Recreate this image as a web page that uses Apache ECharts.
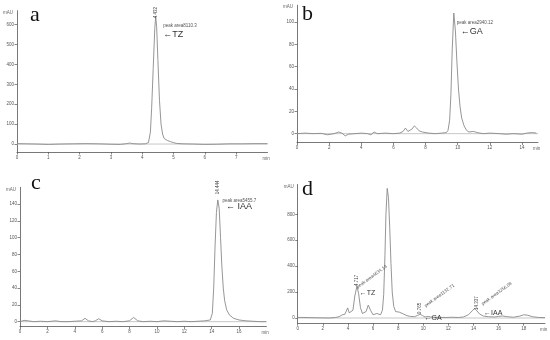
<!DOCTYPE html>
<html><head><meta charset="utf-8">
<script src="https://cdn.jsdelivr.net/npm/echarts@6/dist/echarts.min.js"></script>
<style>html,body{margin:0;padding:0;background:#fff}#c{width:550px;height:340px}</style>
</head><body><div id="c"></div>
<script>
// ---- Panel a (TZ standard) ----
const timeA = [0,0.3,0.6,1.0,1.4,1.8,2.2,2.6,3.0,3.3,3.5,3.6,3.7,3.9,4.1,4.2,4.26,4.3,4.35,4.4,4.43,4.46,4.5,4.55,4.6,4.65,4.7,4.8,4.9,5.0,5.1,5.3,5.6,6.0,6.4,6.8,7.2,7.6,8.0];
const mauA  = [2,1,0,-2,0,1,2,1,-1,-2,2,5,2,0,1,8,60,180,380,580,640,590,420,220,100,50,28,18,12,7,3,1,0,-2,-1,1,1,2,2];
// ---- Panel b (GA standard) ----
const timeB = [0,0.5,1,1.5,1.9,2.3,2.6,2.8,3.0,3.2,3.6,4.0,4.4,4.6,4.8,5.0,5.5,6.0,6.4,6.6,6.75,6.9,7.0,7.15,7.3,7.45,7.6,7.8,8.2,8.6,9.0,9.3,9.4,9.5,9.58,9.66,9.76,9.86,9.95,10.05,10.15,10.25,10.4,10.55,10.7,11.0,11.2,11.6,12.0,12.6,13.0,13.5,14.0,14.3,14.6,14.9];
const mauB  = [0,0.5,0,0.3,-1,0,1.5,0.5,-2,-0.5,0,0.5,0,-1,1.5,0,0.5,0,0.5,2,5,2,1,4,7,5,2.5,1.5,0.5,0,0.5,1,3,12,35,75,108,92,65,40,24,14,7,3,1.5,2,1,0,0.5,0,-0.5,0,-0.5,0.5,1,0.5];
// ---- Panel c (IAA standard) ----
const timeC = [0,0.3,0.6,1,1.5,2,2.6,3,3.5,4,4.5,4.75,5.0,5.3,5.5,5.75,6.0,6.5,7,7.5,8.0,8.3,8.6,9,9.5,10,10.5,11,11.5,12,12.5,13,13.5,13.9,14.05,14.15,14.25,14.35,14.45,14.55,14.65,14.75,14.85,14.95,15.1,15.3,15.6,16,16.5,17,17.5,18];
const mauC  = [0,1.5,1,0,0.5,0,1,0,0,0.5,1,4,1,0,1,3.5,1,0,0.5,0,1,5,1,0,0.5,0,1,0.5,0,0.5,0,0.5,1,2,10,40,90,130,145,135,100,65,40,25,14,8,4,2,1,0.5,0,0];
// ---- Panel d (sample) ----
const timeD = [0,0.5,1,1.5,2,2.5,3,3.3,3.55,3.65,3.75,3.85,3.98,4.1,4.25,4.4,4.55,4.72,4.85,5.0,5.15,5.3,5.45,5.62,5.8,6.0,6.15,6.3,6.45,6.6,6.75,6.85,6.95,7.03,7.13,7.23,7.33,7.43,7.53,7.65,7.8,7.95,8.1,8.25,8.45,8.7,9.0,9.3,9.55,9.75,9.95,10.15,10.4,10.6,10.9,11.3,11.8,12.3,12.8,13.2,13.6,13.9,14.1,14.25,14.5,14.8,15.2,15.7,16.0,16.3,16.7,17.2,17.7,18.0,18.3,18.7,19.2,19.7];
const mauD  = [5,4,3,2,1,0,4,10,25,40,28,40,78,40,25,60,170,245,190,80,35,25,50,100,60,25,30,35,20,25,60,180,480,800,1000,930,700,420,200,90,50,40,45,50,30,18,12,10,20,30,18,8,12,8,6,5,4,6,4,8,25,55,75,80,30,15,10,8,12,16,10,6,15,25,22,10,4,3];

// axis ranges and tick values
const xMax = [8, 15, 18, 19.7];
const yMin = [-40, -8, -6, -40];
const yMax = [670, 115, 160, 1030];
const xTicks = [[0,1,2,3,4,5,6,7],[0,2,4,6,8,10,12,14],[0,2,4,6,8,10,12,14,16],[0,2,4,6,8,10,12,14,16,18]];
const yTicks = [[0,100,200,300,400,500,600],[0,20,40,60,80,100],[0,20,40,60,80,100,120,140],[0,200,400,600,800]];
const panelLetters = ['a','b','c','d'];

// annotations: [x, y, text]
const rtLabels = [
  [[4.43, 660, '4.432']],
  [[9.76, 118, '9.764']],
  [[14.45, 160, '14.444']],
  [[7.13, 1080, '7.128'],[4.72, 290, '4.717'],[9.75, 75, '9.765'],[14.25, 115, '14.337']]
];
const areaLabels = [
  [[4.67, 593, 'peak area8110.3', 0]],
  [[9.94, 99, 'peak area2940.12', 0]],
  [[14.8, 143.7, 'peak area5455.7', 0]],
  [[4.85, 220, 'peak area4634.13', 36],[10.25, 75, 'peak area1132.71', 36],[14.8, 90, 'peak area3256.08', 36]]
];
const compLabels = [
  [[4.67, 548, '←TZ']],
  [[10.19, 91, '←GA']],
  [[15.05, 137, '← IAA']],
  [[4.95, 195, '←TZ'],[10.1, 0, '←GA'],[14.85, 35, '←IAA']]
];

const grids = [
  {left:17, right:282.5, top:10.7, bottom:188},
  {left:297, right:12, top:5.2, bottom:197.4},
  {left:20, right:283.6, top:187.3, bottom:13.3},
  {left:297.7, right:5, top:184.5, bottom:16.8}
];
const letterPos = [[30,4],[302,3],[31,172],[302,178]];

const times = [timeA, timeB, timeC, timeD];
const maus = [mauA, mauB, mauC, mauD];
const FONT = 'Liberation Sans, Arial, sans-serif';
const lineCol = '#8a8a8a';
const axCol = '#555';

const xAxis = [], yAxis = [], series = [], graphic = [];
for (let i = 0; i < 4; i++) {
  xAxis.push({
    type:'value', gridIndex:i, min:0, max:xMax[i],
    name:'min', nameLocation:'end', nameGap:-5,
    nameTextStyle:{fontSize:4.5, color:'#666', fontFamily:FONT, verticalAlign:'top', padding:[4,0,0,0]},
    axisLine:{onZero:false, lineStyle:{color:axCol, width:0.8}},
    axisTick:{show:true, length:2.5, customValues:xTicks[i], lineStyle:{color:axCol, width:0.7}},
    axisLabel:{customValues:xTicks[i], fontSize:4.5, color:'#555', margin:3, fontFamily:FONT},
    splitLine:{show:false}
  });
  yAxis.push({
    type:'value', gridIndex:i, min:yMin[i], max:yMax[i],
    name:'mAU', nameLocation:'end', nameGap:-2,
    nameTextStyle:{fontSize:4.5, color:'#666', fontFamily:FONT, align:'right', verticalAlign:'middle', padding:[0,4,0,0]},
    axisLine:{show:true, onZero:false, lineStyle:{color:axCol, width:0.8}},
    axisTick:{show:true, length:2.5, customValues:yTicks[i], lineStyle:{color:axCol, width:0.7}},
    axisLabel:{customValues:yTicks[i], fontSize:4.5, color:'#555', margin:3, fontFamily:FONT},
    splitLine:{show:false}
  });
  const data = times[i].map((t, k) => [t, maus[i][k]]);
  const mp = [];
  rtLabels[i].forEach(r => mp.push({coord:[r[0], r[1]], label:{show:true, formatter:r[2], rotate:90, position:'inside', align:'center', verticalAlign:'middle', fontSize:4.5, color:'#444', fontFamily:FONT}}));
  areaLabels[i].forEach(r => mp.push({coord:[r[0], r[1]], label:{show:true, formatter:r[2], rotate:r[3], position:'inside', align:'left', verticalAlign:r[3] ? 'bottom' : 'middle', fontSize:4.5, color:'#555', fontFamily:FONT}}));
  compLabels[i].forEach(r => mp.push({coord:[r[0], r[1]], label:{show:true, formatter:r[2], position:'inside', align:'left', verticalAlign:'middle', fontSize: i===3 ? 7 : 9, color:'#333', fontFamily:FONT}}));
  series.push({
    type:'line', xAxisIndex:i, yAxisIndex:i, data:data, showSymbol:false, symbol:'none',
    lineStyle:{color:lineCol, width:0.9}, animation:false, clip:false, z:3,
    markPoint:{symbol:'circle', symbolSize:0, data:mp, animation:false, silent:true}
  });
  series.push({
    type:'line', xAxisIndex:i, yAxisIndex:i, data:[[0,0],[xMax[i],0]], showSymbol:false, symbol:'none',
    lineStyle:{color:'#b0b0b0', width:0.7}, animation:false, z:2
  });
  graphic.push({type:'text', left:letterPos[i][0], top:letterPos[i][1], style:{text:panelLetters[i], fontSize:22, fontFamily:'Liberation Serif, Times New Roman, serif', fill:'#111'}});
}

const chart = echarts.init(document.getElementById('c'), null, {renderer:'canvas'});
chart.setOption({animation:false, grid:grids, xAxis:xAxis, yAxis:yAxis, series:series, graphic:graphic});
</script></body></html>
